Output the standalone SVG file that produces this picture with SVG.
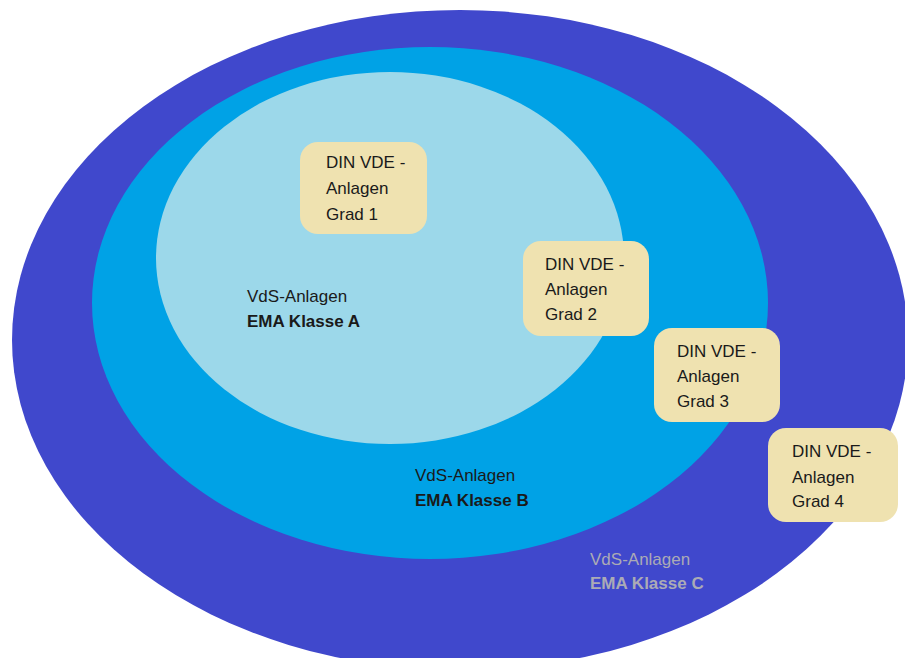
<svg xmlns="http://www.w3.org/2000/svg" width="905" height="658" viewBox="0 0 905 658">
<style>
.t{font-family:"Liberation Sans",Arial,sans-serif;font-size:17px;fill:#1a1a1a}
.b{font-weight:bold}
.g{fill:#ababb5}
.box{fill:#efe2b0}
</style>
<rect width="905" height="658" fill="#ffffff"/>
<g id="klasse-c">
<ellipse cx="460" cy="340" rx="448" ry="330" fill="#4048cc"/>
<text class="t g" x="590" y="565">VdS-Anlagen</text>
<text class="t g b" x="590" y="589">EMA Klasse C</text>
</g>
<g id="klasse-b">
<ellipse cx="430" cy="303" rx="338" ry="256" fill="#00a2e6"/>
<text class="t" x="415" y="481">VdS-Anlagen</text>
<text class="t b" x="415" y="506">EMA Klasse B</text>
</g>
<g id="klasse-a">
<ellipse cx="390" cy="258" rx="234" ry="186" fill="#9cd8ea"/>
<text class="t" x="247" y="302">VdS-Anlagen</text>
<text class="t b" x="247" y="327">EMA Klasse A</text>
</g>
<g id="grad1">
<rect class="box" x="300" y="142" width="127" height="92" rx="18"/>
<text class="t" x="326" y="168">DIN VDE -</text>
<text class="t" x="326" y="194">Anlagen</text>
<text class="t" x="326" y="220">Grad 1</text>
</g>
<g id="grad2">
<rect class="box" x="523" y="241" width="126" height="95" rx="18"/>
<text class="t" x="545" y="270">DIN VDE -</text>
<text class="t" x="545" y="295">Anlagen</text>
<text class="t" x="545" y="320">Grad 2</text>
</g>
<g id="grad3">
<rect class="box" x="654" y="328" width="126" height="94" rx="18"/>
<text class="t" x="677" y="357">DIN VDE -</text>
<text class="t" x="677" y="382">Anlagen</text>
<text class="t" x="677" y="407">Grad 3</text>
</g>
<g id="grad4">
<rect class="box" x="768" y="428" width="130" height="94" rx="18"/>
<text class="t" x="792" y="457">DIN VDE -</text>
<text class="t" x="792" y="483">Anlagen</text>
<text class="t" x="792" y="507">Grad 4</text>
</g>
<g id="connectors"/>
</svg>
